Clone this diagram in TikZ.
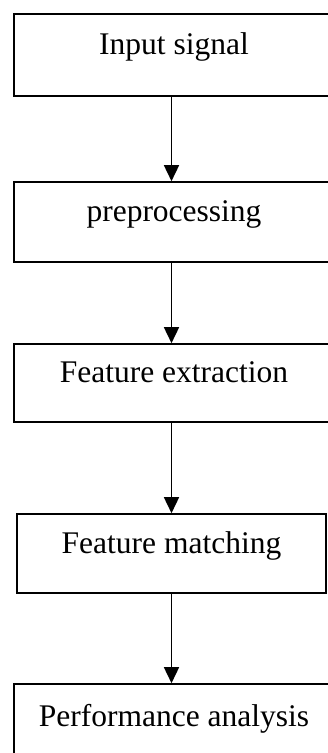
\documentclass[tikz,border=0pt]{standalone}
\usepackage{fontspec}
\setmainfont{Liberation Serif}
\usetikzlibrary{arrows.meta}
\begin{document}
\begin{tikzpicture}[x=1pt,y=1pt,
  box/.style={draw, line width=1.6pt, rectangle, inner sep=0pt,
    text height=0pt, text depth=0pt, font=\fontsize{31.5}{36}\selectfont},
  arr/.style={-{Triangle[width=15pt,length=16pt]}, line width=1.6pt}]
\useasboundingbox (0,0) rectangle (328,753);
\clip (0,0) rectangle (328,753);
\fill[white] (0,0) rectangle (328,753);
\coordinate (ax) at (171.5,0);
\node[box, minimum width=320pt, minimum height=82pt] (b1) at (174,698) {Input signal};
\node[box, minimum width=320pt, minimum height=80pt] (b2) at (174,531) {preprocessing};
\node[box, minimum width=320pt, minimum height=78pt] (b3) at (174,370) {Feature extraction};
\node[box, minimum width=309pt, minimum height=79pt] (b4) at (171.5,199.5) {Feature matching};
\node[box, minimum width=320pt, minimum height=86pt] (b5) at (174,26) {Performance analysis};
\draw[arr] (b1.south -| ax) -- (b2.north -| ax);
\draw[arr] (b2.south -| ax) -- (b3.north -| ax);
\draw[arr] (b3.south -| ax) -- (b4.north -| ax);
\draw[arr] (b4.south -| ax) -- (b5.north -| ax);
\end{tikzpicture}
\end{document}
